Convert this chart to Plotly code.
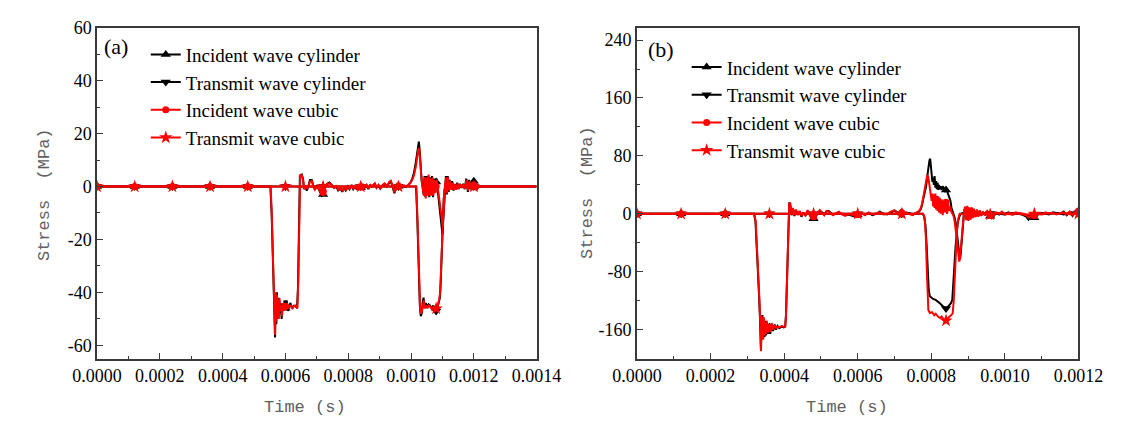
import numpy as np
import plotly.graph_objects as go

# The page body has an 8px default margin, so the figure is 8px smaller than the
# window and every pixel position below is given in page pixels minus 8.
OFF = 8
W, H = 1135 - OFF, 421 - OFF

# ---------------- data (time in microseconds, stress in MPa) ----------------
# Panel (a)
A_INC_CYL = [
    (0, 0), (552, 0), (556, -10), (560, -30), (564, -42), (567, -57), (569, -41), (571, -52), (573, -40),
    (575, -50), (577, -42), (579, -49), (581, -43), (583, -48), (585, -44), (588, -50), (591, -45), (594, -47),
    (597, -43), (600, -46), (604, -43), (608, -47), (612, -45), (616, -44), (620, -46), (626, -45), (632, -45),
    (637, -46), (640, -38), (642, -20), (644, 0), (646, 4), (652, 4.5), (656, 3), (659, -1), (663, 0),
    (668, -1.5), (673, 0), (678, 2.5), (684, 2.5), (688, 0.5), (693, -1), (700, 0.5), (706, -1), (712, -2.5),
    (716, -3.5), (720, -3), (725, -0.5), (732, 1), (740, 1.5), (748, 0.5), (755, -0.5), (762, 0), (768, -1.5),
    (775, -0.8), (781, -2), (786, -0.5), (792, -1.5), (798, 0), (804, -1), (810, 0.5), (816, -1), (822, 0),
    (828, -1.2), (834, 0.5), (840, -0.5), (846, 0.8), (852, -0.5), (858, 0.5), (864, -1), (870, 0.5),
    (876, 0), (884, 1), (890, -0.5), (896, 0.5), (902, -0.8), (908, 0.3), (915, 1), (922, 0), (930, 1.5),
    (935, 2), (940, 0.5), (944, -1.5), (947, -2.5), (951, -0.5), (958, 0), (966, 0.3), (975, 0), (985, 0),
    (991, 0.5), (998, 1.5), (1004, 3), (1009, 5), (1015, 9), (1019, 13), (1022, 16), (1025, 17), (1028, 13),
    (1031, 7), (1034, 2), (1037, 0), (1040, -3), (1043, 4), (1046, -4), (1049, 4), (1052, -3), (1055, 4),
    (1058, -4), (1061, 3.5), (1064, -3), (1067, 4), (1070, -4), (1073, 3), (1077, -2), (1081, 3), (1085, -1),
    (1089, -5), (1093, -10), (1097, -15), (1100, -18), (1103, -12), (1106, -4), (1108, 0), (1111, 4),
    (1114, -3), (1117, 4), (1120, -2), (1123, 2.5), (1127, -1), (1131, 2), (1135, -1.5), (1139, 1),
    (1143, -1), (1147, 1.5), (1151, -1), (1156, 1), (1161, -0.5), (1166, 1), (1171, -1), (1176, 3),
    (1181, -2), (1185, 2.5), (1189, -1), (1193, 1), (1197, -0.5), (1200, 2), (1205, 0), (1210, -1),
    (1215, 0), (1400, 0),
]
A_TRA_CYL = [
    (0, 0), (1016, 0), (1020, -12), (1024, -32), (1028, -45), (1031, -49), (1034, -48), (1037, -44),
    (1040, -42), (1043, -46), (1047, -44), (1051, -45.5), (1056, -44.5), (1061, -45), (1066, -46),
    (1071, -45), (1076, -46), (1080, -47), (1084, -46), (1088, -44), (1092, -42), (1095, -35), (1098, -22),
    (1101, -12), (1104, -5), (1107, -1), (1110, 0), (1400, 0),
]
A_INC_CUB = [
    (0, 0), (553, 0), (557, -12), (561, -32), (564, -41), (567, -56), (569, -40), (571, -51), (573, -41),
    (575, -49), (577, -43), (579, -50), (581, -42), (583, -47), (586, -45), (589, -49), (592, -44), (595, -47),
    (598, -44), (601, -46), (605, -44), (609, -46), (613, -45), (618, -45), (623, -46), (629, -45), (634, -45),
    (638, -46), (641, -36), (643, -15), (645, 2), (647, 4.5), (653, 4), (657, 2), (660, -1), (664, 0.5),
    (669, -1), (674, 0.5), (679, 2), (685, 2), (689, 0), (694, -1.2), (701, 0), (707, -1), (713, -2),
    (717, -3), (721, -2), (726, 0), (733, 1), (741, 1.2), (749, 0.3), (756, -0.5), (763, 0.2), (769, -1.3),
    (776, -0.6), (782, -1.8), (787, -0.3), (793, -1.4), (799, 0.2), (805, -0.8), (811, 0.6), (817, -0.8),
    (823, 0.2), (829, -1), (835, 0.6), (841, -0.3), (847, 1), (853, -0.3), (859, 0.6), (865, -0.8),
    (871, 0.6), (877, 0.2), (885, 1.2), (891, -0.3), (897, 0.6), (903, -0.6), (909, 0.4), (916, 1.2),
    (923, 0.2), (931, 1.8), (936, 2.2), (941, 0.6), (945, -1.2), (948, -2.2), (952, -0.3), (959, 0.2),
    (967, 0.4), (976, 0.2), (986, 0.2), (992, 0.6), (999, 1.5), (1005, 2.8), (1010, 4.5), (1016, 8),
    (1020, 11.5), (1023, 14), (1026, 14.5), (1029, 11), (1032, 5), (1035, 1), (1038, -1), (1041, -3.5),
    (1044, 3.5), (1047, -4.5), (1050, 3.5), (1053, -3.5), (1056, 4.5), (1059, -3.5), (1062, 3), (1065, -3.5),
    (1068, 3.5), (1071, -3.5), (1074, 2.5), (1078, -2.5), (1082, 2.5), (1086, -1.5), (1090, -5), (1094, -9),
    (1098, -13), (1101, -15), (1104, -9), (1107, -2), (1109, 1), (1112, 3.5), (1115, -2.5), (1118, 3.5),
    (1121, -1.5), (1124, 2), (1128, -1.2), (1132, 1.5), (1136, -1.2), (1140, 0.8), (1144, -1.2), (1148, 1.2),
    (1152, -0.8), (1157, 0.8), (1162, -0.3), (1167, 0.8), (1172, -0.8), (1177, 2.5), (1182, -1.5), (1186, 2),
    (1190, -0.8), (1194, 0.8), (1198, -0.3), (1202, 1.5), (1206, 0), (1211, -0.8), (1216, 0), (1400, 0),
]
A_TRA_CUB = [
    (0, 0), (1017, 0), (1021, -14), (1025, -35), (1029, -46), (1032, -48), (1035, -47), (1038, -45),
    (1041, -43), (1044, -46), (1048, -45), (1052, -46), (1057, -45), (1062, -45.5), (1067, -46.5),
    (1072, -45.5), (1077, -46.5), (1081, -46), (1085, -45), (1089, -43), (1093, -40), (1096, -30),
    (1099, -18), (1102, -9), (1105, -3), (1108, 0), (1400, 0),
]

# Panel (b)
B_INC_CYL = [
    (0, 0), (318, 0), (322, -10), (326, -45), (329, -79), (332, -115), (334, -140), (336, -165), (337, -187),
    (339, -150), (341, -140), (343, -172), (345, -145), (347, -170), (349, -148), (351, -168), (353, -150),
    (356, -166), (359, -152), (362, -166), (366, -152), (370, -162), (374, -153), (378, -160), (382, -155),
    (387, -158), (393, -156), (399, -157), (403, -155), (405, -140), (408, -80), (411, -15), (414, 16),
    (417, 10), (420, -2), (424, 7), (428, -3), (432, 5), (437, -1), (442, 3), (447, -4), (452, 1), (458, -2),
    (464, 4), (470, -3), (475, -7), (481, -7), (486, -3), (491, 1), (497, 4), (503, 2), (509, -1), (515, 3),
    (521, 4), (527, 1), (533, -1), (541, 0), (549, 2), (557, 0), (566, -2), (576, -1), (586, -3), (596, -1),
    (603, -2), (611, 0), (620, -1), (630, 1), (640, -2), (650, 0), (660, 3), (670, 0), (680, -1), (690, 2),
    (700, 4), (705, 3), (710, 0), (716, 3), (722, 1), (730, 0), (740, 1), (750, -1), (757, 0), (764, 2),
    (770, 5), (774, 10), (778, 20), (782, 30), (786, 38), (790, 55), (793, 70), (795, 74), (797, 76),
    (799, 66), (801, 52), (803, 44), (805, 50), (807, 40), (809, 52), (811, 36), (813, 45), (815, 34),
    (817, 43), (819, 33), (821, 40), (823, 34), (825, 38), (828, 33), (831, 38), (834, 36), (837, 30),
    (840, 33), (843, 31), (846, 27), (849, 22), (852, 18), (855, 8), (858, 3), (861, 0), (864, -6),
    (866, -12), (869, -25), (872, -40), (875, -56), (878, -63), (880, -55), (882, -43), (885, -16),
    (887, -4), (889, 2), (892, 8), (895, -7), (898, 9), (901, -8), (904, 7), (907, -6), (910, 8), (913, -5),
    (916, 6), (920, -4), (924, 5), (928, -3), (932, 4), (936, -2), (941, 2), (946, -1), (952, 3), (958, -2),
    (964, -6), (970, -3), (976, 1), (984, -1), (992, 2), (1000, 0), (1010, 2), (1020, -1), (1030, 0),
    (1040, 1), (1050, -2), (1058, -4), (1064, -8), (1070, -4), (1078, -5), (1082, -6), (1088, -2), (1094, 0),
    (1102, 1), (1110, 0), (1120, -1), (1130, 2), (1140, 1), (1150, 0), (1160, 3), (1168, -2), (1176, 2),
    (1184, -3), (1190, 3), (1195, 4), (1200, 3),
]
B_TRA_CYL = [
    (0, 0), (776, 0), (780, -3), (784, -15), (787, -40), (790, -75), (793, -105), (796, -114), (800, -116),
    (806, -118), (812, -119), (818, -121), (824, -124), (830, -127), (836, -130), (840, -131), (844, -129),
    (848, -126), (853, -124), (857, -119), (860, -100), (863, -70), (866, -45), (869, -25), (872, -12),
    (876, -4), (880, 0), (890, 2), (900, -2), (910, 1), (920, -1), (935, 1), (950, -1), (965, 1), (980, 0),
    (1000, -1), (1020, 1), (1040, 0), (1060, -2), (1080, -1), (1100, 1), (1120, 0), (1140, 1), (1160, -1),
    (1180, 2), (1200, 1),
]
B_INC_CUB = [
    (0, 0), (319, 0), (323, -12), (327, -50), (330, -85), (333, -120), (335, -150), (336, -175), (337, -190),
    (339, -148), (341, -142), (343, -174), (345, -143), (347, -168), (349, -150), (351, -166), (353, -148),
    (356, -164), (359, -154), (362, -163), (366, -151), (370, -160), (374, -154), (378, -158), (382, -156),
    (387, -157), (393, -155), (399, -156), (403, -156), (405, -142), (408, -85), (411, -20), (414, 15),
    (417, 14), (420, 0), (424, 8), (428, -2), (432, 6), (437, -2), (442, 4), (447, -3), (452, 2), (458, -3),
    (464, 5), (470, -2), (475, -5), (481, -4), (486, -1), (491, 2), (497, 5), (503, 1), (509, -2), (515, 4),
    (521, 3), (527, 0), (533, -2), (541, 1), (549, 3), (557, -1), (566, -3), (576, 0), (586, -2), (596, -2),
    (603, -1), (611, 1), (620, -2), (630, 2), (640, -1), (650, 1), (660, 2), (670, -1), (680, 0), (690, 3),
    (700, 5), (705, 2), (710, -1), (716, 4), (722, 0), (730, 1), (740, 0), (750, -2), (757, 1), (764, 3),
    (770, 6), (774, 12), (778, 22), (782, 34), (786, 45), (789, 54), (792, 50), (795, 40), (798, 28),
    (801, 18), (803, 28), (805, 10), (807, 27), (809, 8), (811, 28), (813, 6), (815, 25), (817, 4), (819, 24),
    (821, 2), (823, 22), (825, 0), (828, 20), (831, -2), (834, 18), (837, 2), (840, 16), (843, 0), (846, 14),
    (849, 4), (852, 10), (855, 2), (858, 0), (861, -4), (864, -12), (867, -25), (870, -42), (873, -58),
    (876, -66), (878, -62), (880, -48), (883, -25), (886, -8), (889, 4), (892, 10), (895, -9), (898, 11),
    (901, -10), (904, 9), (907, -8), (910, 9), (913, -6), (916, 7), (920, -5), (924, 6), (928, -4), (932, 5),
    (936, -3), (941, 3), (946, -2), (952, 4), (958, -1), (964, -5), (970, -2), (976, 2), (984, 0), (992, 3),
    (1000, -1), (1010, 1), (1020, 0), (1030, 2), (1040, 0), (1050, -1), (1058, -2), (1064, -5), (1070, -3),
    (1078, -2), (1082, -3), (1088, 0), (1094, 1), (1102, 0), (1110, 2), (1120, 0), (1130, 1), (1140, -1),
    (1150, 1), (1160, 2), (1168, -1), (1176, 3), (1184, -2), (1190, 2), (1195, 5), (1200, 4),
]
B_TRA_CUB = [
    (0, 0), (778, 0), (782, -5), (785, -30), (788, -80), (790, -118), (792, -133), (796, -137), (802, -136),
    (808, -140), (812, -138), (818, -142), (824, -144), (828, -142), (834, -147), (838, -149), (842, -146),
    (848, -143), (854, -141), (858, -138), (861, -120), (864, -80), (867, -45), (870, -20), (873, -8),
    (877, 0), (890, -1), (900, 1), (910, -1), (925, 1), (940, 0), (960, -1), (980, 1), (1000, 0), (1020, -1),
    (1040, 1), (1060, -1), (1080, 0), (1100, -1), (1120, 1), (1140, 0), (1160, 1), (1180, -1), (1200, 0),
]

# symbol positions along the curves (microseconds)
MARKER_T_US = [0, 120, 240, 360, 480, 600, 720, 840, 960, 1080, 1200]

SERIES_NAMES = ["Incident wave cylinder", "Transmit wave cylinder",
                "Incident wave cubic", "Transmit wave cubic"]

A_XTICKS = [0, 0.0002, 0.0004, 0.0006, 0.0008, 0.0010, 0.0012, 0.0014]
A_XLABELS = ["0.0000", "0.0002", "0.0004", "0.0006", "0.0008", "0.0010", "0.0012", "0.0014"]
A_YTICKS = [-60, -40, -20, 0, 20, 40, 60]
A_YLABELS = ["-60", "-40", "-20", "0", "20", "40", "60"]
B_XTICKS = [0, 0.0002, 0.0004, 0.0006, 0.0008, 0.0010, 0.0012]
B_XLABELS = ["0.0000", "0.0002", "0.0004", "0.0006", "0.0008", "0.0010", "0.0012"]
B_YTICKS = [-160, -80, 0, 80, 160, 240]
B_YLABELS = ["-160", "-80", "0", "80", "160", "240"]

# ---------------- styling ----------------
STYLES = [
    dict(color="#000000", symbol="triangle-up", size=9),
    dict(color="#000000", symbol="triangle-down", size=9),
    dict(color="#ff0000", symbol="circle", size=7),
    dict(color="#ff0000", symbol="star", size=10),
]
LINE_W = 2

fig = go.Figure()


def add_series(pairs, style, xa, ya):
    t = np.array([p[0] for p in pairs], dtype=float)
    v = np.array([p[1] for p in pairs], dtype=float)
    fig.add_trace(go.Scatter(x=t * 1e-6, y=v, mode="lines", xaxis=xa, yaxis=ya,
                             line=dict(color=style["color"], width=LINE_W),
                             showlegend=False, hoverinfo="skip"))
    mt = np.array(MARKER_T_US, dtype=float)
    mv = np.interp(mt, t, v)
    fig.add_trace(go.Scatter(x=mt * 1e-6, y=mv, mode="markers", xaxis=xa, yaxis=ya,
                             marker=dict(color=style["color"], symbol=style["symbol"],
                                         size=style["size"], line=dict(width=0)),
                             showlegend=False, hoverinfo="skip"))


for pairs, st in zip([A_INC_CYL, A_TRA_CYL, A_INC_CUB, A_TRA_CUB], STYLES):
    add_series(pairs, st, "x", "y")
for pairs, st in zip([B_INC_CYL, B_TRA_CYL, B_INC_CUB, B_TRA_CUB], STYLES):
    add_series(pairs, st, "x2", "y2")

# legend entries
for name, st in zip(SERIES_NAMES, STYLES):
    for leg, xa, ya in (("legend", "x", "y"), ("legend2", "x2", "y2")):
        fig.add_trace(go.Scatter(x=[None], y=[None], mode="lines+markers", name=name,
                                 xaxis=xa, yaxis=ya, legend=leg,
                                 line=dict(color=st["color"], width=LINE_W),
                                 marker=dict(color=st["color"], symbol=st["symbol"],
                                             size=st["size"], line=dict(width=0))))

AX_COLOR = "#3a3a3a"
TICK_FONT = dict(family="Liberation Serif, Times New Roman, serif", size=18, color="#000000")


def axis_common():
    return dict(showline=True, linecolor=AX_COLOR, linewidth=1.5, mirror=True,
                ticks="inside", ticklen=6, tickwidth=1.3, tickcolor=AX_COLOR,
                showgrid=False, zeroline=False, tickfont=TICK_FONT, tickmode="array")


def px(x):
    return (x - OFF) / W


def py(y):
    return 1 - (y - OFF) / H


LA, RA = 75, 535
LB, RB = 640, 1102
TOP, BOT = 18, 357

LEG_FONT = dict(family="Liberation Serif, Times New Roman, serif", size=19, color="#000")

fig.update_layout(
    width=W, height=H,
    margin=dict(l=0, r=0, t=0, b=0),
    paper_bgcolor="white", plot_bgcolor="white",
    xaxis=dict(domain=[px(LA), px(RA)], range=[0, 0.0014], anchor="y",
               tickvals=A_XTICKS, ticktext=A_XLABELS,
               minor=dict(tickmode="linear", tick0=0, dtick=0.0001, ticks="inside",
                          ticklen=3, tickcolor=AX_COLOR), **axis_common()),
    yaxis=dict(domain=[py(BOT), py(TOP)], range=[-65, 60], anchor="x",
               tickvals=A_YTICKS, ticktext=A_YLABELS,
               minor=dict(tickmode="linear", tick0=0, dtick=10, ticks="inside",
                          ticklen=3, tickcolor=AX_COLOR), **axis_common()),
    xaxis2=dict(domain=[px(LB), px(RB)], range=[0, 0.0012], anchor="y2",
                tickvals=B_XTICKS, ticktext=B_XLABELS,
                minor=dict(tickmode="linear", tick0=0, dtick=0.0001, ticks="inside",
                           ticklen=3, tickcolor=AX_COLOR), **axis_common()),
    yaxis2=dict(domain=[py(BOT), py(TOP)], range=[-200, 257], anchor="x2",
                tickvals=B_YTICKS, ticktext=B_YLABELS,
                minor=dict(tickmode="linear", tick0=0, dtick=40, ticks="inside",
                           ticklen=3, tickcolor=AX_COLOR), **axis_common()),
    legend=dict(x=px(126), y=py(26), xanchor="left", yanchor="top",
                bgcolor="rgba(0,0,0,0)", borderwidth=0, tracegroupgap=0, font=LEG_FONT),
    legend2=dict(x=px(692), y=py(39), xanchor="left", yanchor="top",
                 bgcolor="rgba(0,0,0,0)", borderwidth=0, tracegroupgap=0, font=LEG_FONT),
)

TITLE_FONT = dict(family="Liberation Mono, DejaVu Sans Mono, monospace", size=17, color="#606060")
SERIF_BIG = dict(family="Liberation Serif, Times New Roman, serif", size=22, color="#000")
annos = [
    dict(text="(a)", x=px(95), y=py(37), font=SERIF_BIG),
    dict(text="(b)", x=px(665), y=py(40), font=SERIF_BIG),
    dict(text="Stress\u00a0\u00a0(MPa)", x=px(20), y=py(189), textangle=-90, font=TITLE_FONT),
    dict(text="Stress\u00a0\u00a0(MPa)", x=px(588), y=py(187), textangle=-90, font=TITLE_FONT),
    dict(text="Time\u00a0(s)", x=px(293), y=py(407), font=TITLE_FONT),
    dict(text="Time\u00a0(s)", x=px(860), y=py(407), font=TITLE_FONT),
]
for a in annos:
    fig.add_annotation(xref="paper", yref="paper", showarrow=False,
                       xanchor="center", yanchor="middle", **a)

fig.write_html("out.html")
